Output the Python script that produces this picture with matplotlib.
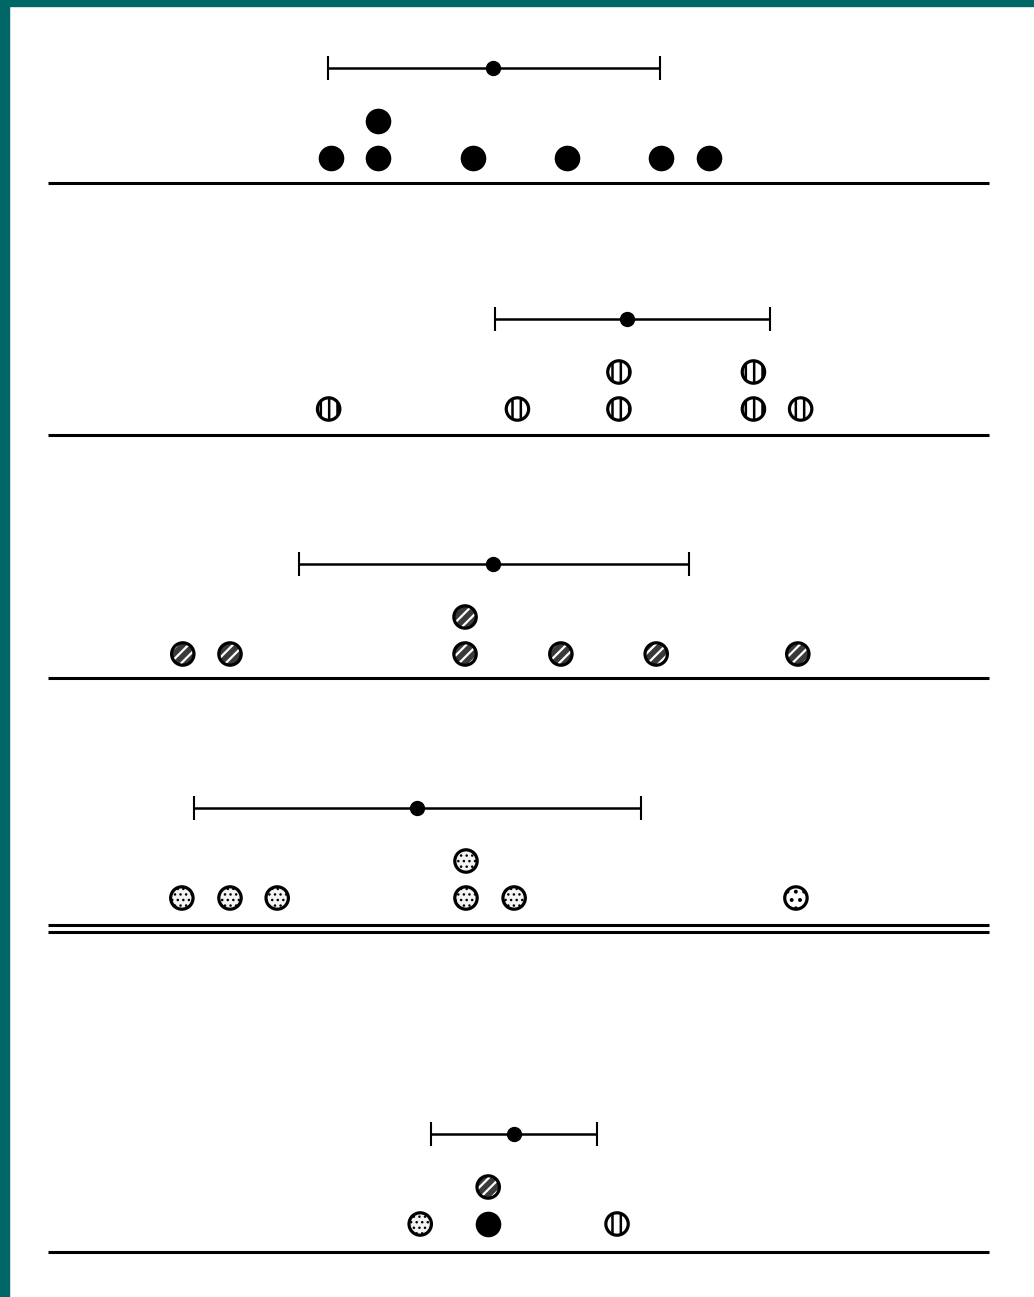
import numpy as np
import matplotlib.pyplot as plt
from matplotlib.patches import Rectangle

W, H = 1034, 1297
UNIT = 47.2     # pixels per x unit
X0 = 331        # pixel column of x = 0
ROW = 37        # pixels per stacked dot

# individual observations per group (x value, marker kind)
vals_1 = [0, 1, 1, 3, 5, 7, 8]
kind_1 = ['solid'] * 7
vals_2 = [-0.05, 3.95, 6.1, 6.1, 8.95, 8.95, 9.95]
kind_2 = ['vert'] * 7
vals_3 = [-3.14, -2.14, 2.84, 2.84, 4.87, 6.89, 9.89]
kind_3 = ['diag'] * 7
vals_4 = [-3.16, -2.14, -1.14, 2.86, 2.86, 3.88, 9.85]
kind_4 = ['dots'] * 6 + ['dots4']
vals_5 = [1.89, 3.33, 3.33, 6.06]
kind_5 = ['dots', 'solid', 'diag', 'vert']

# mean and range bars
means = [3.43, 6.27, 3.43, 1.82, 3.88]
lows = [-0.06, 3.47, -0.68, -2.90, 2.12]
highs = [6.97, 9.30, 7.58, 6.57, 5.64]

values = [vals_1, vals_2, vals_3, vals_4, vals_5]
kinds = [kind_1, kind_2, kind_3, kind_4, kind_5]

# layout: pixel row of the lowest dot in each panel, baseline offsets
row0_px = [158, 409, 654, 898, 1224]
base_y = [[-0.68], [-0.70], [-0.65], [-0.73, -0.92], [-0.76]]
ERR_Y = 2.43

S_SOLID = 340
S_RING = 260


def draw_dot(ax, x, y, kind):
    if kind == 'solid':
        ax.scatter([x], [y], s=S_SOLID, c='black', lw=0, zorder=3, clip_on=False)
        return
    if kind == 'diag':
        with plt.rc_context({'hatch.linewidth': 1.6}):
            ax.scatter([x], [y], s=S_RING, facecolor='#3a3a3a', edgecolor='white',
                       hatch='///', lw=0, zorder=3, clip_on=False)
        ax.scatter([x], [y], s=S_RING, facecolor='none', edgecolor='black',
                   lw=2.3, zorder=4, clip_on=False)
        return
    if kind == 'vert':
        hatch, face, hlw = '||', 'white', 1.8
    elif kind == 'dots':
        hatch, face, hlw = '...', '#f4f4f4', 1.0
    else:
        hatch, face, hlw = '..', 'white', 1.6
    with plt.rc_context({'hatch.linewidth': hlw}):
        ax.scatter([x], [y], s=S_RING, facecolor=face, edgecolor='black',
                   hatch=hatch, lw=2.3, zorder=3, clip_on=False)


fig = plt.figure(figsize=(W / 100, H / 100), dpi=100)
fig.patch.set_facecolor('white')

for i in range(5):
    r0 = row0_px[i]
    bottom = 1 - (r0 + ROW) / H
    ax = fig.add_axes([0, bottom, 1, 4 * ROW / H])
    ax.set_xlim((0 - X0) / UNIT, (W - X0) / UNIT)
    ax.set_ylim(-1, 3)
    ax.axis('off')

    for yb in base_y[i]:
        ax.hlines(yb, -6.0, 13.95, color='black', lw=2.2, zorder=2)

    seen = {}
    for x, k in zip(values[i], kinds[i]):
        level = seen.get(x, 0)
        seen[x] = level + 1
        draw_dot(ax, x, level, k)

    m = means[i]
    ax.errorbar([m], [ERR_Y], xerr=[[m - lows[i]], [highs[i] - m]], fmt='o',
                ms=10, color='black', ecolor='black', elinewidth=1.8,
                capsize=8.5, capthick=1.5, zorder=3, clip_on=False)

# teal frame on the left and top edges
fig.add_artist(Rectangle((0, 0), 9 / W, 1, transform=fig.transFigure,
                         color='#006666', zorder=10))
fig.add_artist(Rectangle((0, 1 - 6 / H), 1, 6 / H, transform=fig.transFigure,
                         color='#006666', zorder=10))

fig.savefig('out.png', dpi=100)
